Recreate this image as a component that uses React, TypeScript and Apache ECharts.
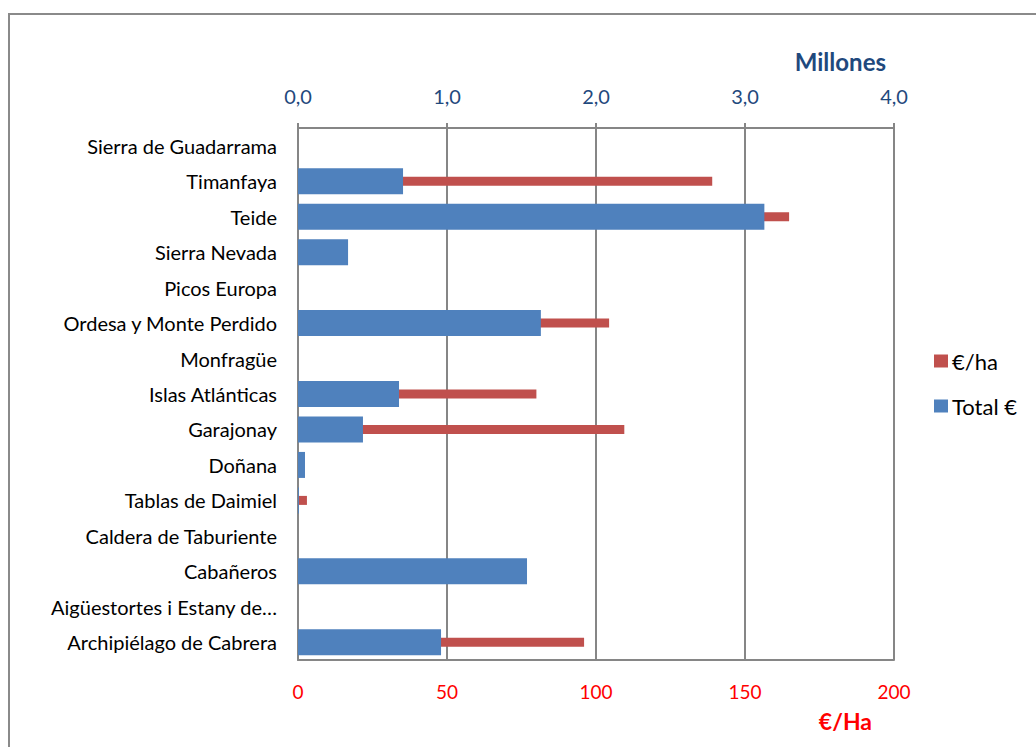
import React, { useEffect, useRef } from "react";
import * as echarts from "echarts";

const categories = [
  "Sierra de Guadarrama",
  "Timanfaya",
  "Teide",
  "Sierra Nevada",
  "Picos Europa",
  "Ordesa y Monte Perdido",
  "Monfragüe",
  "Islas Atlánticas",
  "Garajonay",
  "Doñana",
  "Tablas de Daimiel",
  "Caldera de Taburiente",
  "Cabañeros",
  "Aigüestortes i Estany de…",
  "Archipiélago de Cabrera",
];
// Total € (millones), top axis
const totalMillones = [0, 0.705, 3.13, 0.336, 0, 1.63, 0, 0.678, 0.436, 0.047, 0.006, 0, 1.537, 0, 0.96];
// €/ha, bottom axis
const eurPorHa = [0, 139, 164.8, 0, 0, 104.4, 0, 80, 109.5, 0, 3, 0, 0, 0, 96];

const seriesNames = ["€/ha", "Total €"];
const topAxisTitle = "Millones";
const bottomAxisTitle = "€/Ha";

const FONT = "Lato, 'Open Sans', sans-serif";
const GRID = "#868686";

export default function App() {
  const ref = useRef<HTMLDivElement>(null);
  useEffect(() => {
    document.body.style.margin = "0";
    document.body.style.overflow = "hidden";
    if (!ref.current) return;
    const chart = echarts.init(ref.current, undefined, { renderer: "svg" });
    chart.setOption({
      animation: false,
      backgroundColor: "#fff",
      textStyle: { fontFamily: FONT },
      grid: { left: 298, right: 142, top: 128, bottom: 87, containLabel: false },
      graphic: [
        {
          type: "rect",
          shape: { x: 9, y: 14, width: 1200, height: 900 },
          style: { fill: "none", stroke: "#8a8a8a", lineWidth: 2 },
          z: 0,
        },
        {
          type: "text",
          x: 886,
          y: 61,
          style: {
            text: topAxisTitle,
            fill: "#1F497D",
            font: `bold 24px ${FONT}`,
            textAlign: "right",
            textVerticalAlign: "middle",
          },
        },
        {
          type: "text",
          x: 872,
          y: 721,
          style: {
            text: bottomAxisTitle,
            fill: "#FF0000",
            font: `bold 23px ${FONT}`,
            textAlign: "right",
            textVerticalAlign: "middle",
          },
        },
      ],
      legend: {
        orient: "vertical",
        left: 934,
        top: 350,
        padding: 0,
        itemWidth: 14,
        itemHeight: 13,
        itemGap: 23,
        icon: "rect",
        data: seriesNames,
        textStyle: { fontSize: 22, color: "#000", fontFamily: FONT, padding: [0, 0, 0, -1] },
      },
      xAxis: [
        {
          type: "value",
          position: "top",
          min: 0,
          max: 4,
          interval: 1,
          axisLine: { show: true, lineStyle: { color: GRID, width: 2 } },
          axisTick: { show: true, length: 5, lineStyle: { color: GRID, width: 2 } },
          splitLine: { show: true, lineStyle: { color: GRID, width: 2 } },
          axisLabel: {
            color: "#1F497D",
            fontSize: 20,
            fontFamily: FONT,
            margin: 22,
            formatter: (v: number) => v.toFixed(1).replace(".", ","),
          },
        },
        {
          type: "value",
          position: "bottom",
          min: 0,
          max: 200,
          interval: 50,
          axisLine: { show: true, lineStyle: { color: GRID, width: 2 } },
          axisTick: { show: false },
          splitLine: { show: false },
          axisLabel: { color: "#FF0000", fontSize: 19, fontFamily: FONT, margin: 22 },
        },
      ],
      yAxis: [
        {
          type: "category",
          data: categories,
          inverse: true,
          axisLine: { show: true, lineStyle: { color: GRID, width: 2 } },
          axisTick: { show: false },
          splitLine: { show: false },
          axisLabel: { color: "#000", fontSize: 20, fontFamily: FONT, margin: 21 },
        },
        {
          type: "category",
          data: categories,
          inverse: true,
          show: false,
        },
      ],
      series: [
        {
          name: seriesNames[0],
          type: "bar",
          xAxisIndex: 1,
          yAxisIndex: 1,
          data: eurPorHa,
          barWidth: 9,
          itemStyle: { color: "#C0504D" },
          z: 2,
        },
        {
          name: seriesNames[1],
          type: "bar",
          xAxisIndex: 0,
          yAxisIndex: 0,
          data: totalMillones,
          barWidth: 26,
          itemStyle: { color: "#4F81BD" },
          z: 3,
        },
      ],
    });
    return () => chart.dispose();
  }, []);
  return <div ref={ref} style={{ width: 1036, height: 747 }} />;
}
